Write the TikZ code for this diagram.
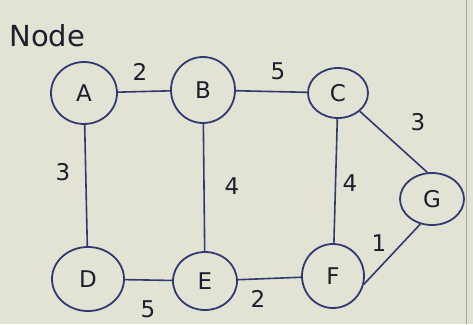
\documentclass[tikz,border=0pt]{standalone}
\usepackage{fontspec}
\setmainfont{DejaVu Sans}
\usetikzlibrary{shapes.geometric}
\definecolor{paper}{RGB}{226,227,212}
\definecolor{ink}{RGB}{48,58,112}
\definecolor{pen}{RGB}{30,30,45}
\begin{document}
\begin{tikzpicture}[x=1pt,y=-1pt,
  vertex/.style={ellipse,draw=ink,line width=1.8pt,inner sep=0pt,
    font=\fontsize{23}{23}\selectfont\color{pen}},
  link/.style={draw=ink,line width=1.6pt},
  weight/.style={font=\fontsize{23}{23}\selectfont\color{pen}}]
  % sheet of paper
  \fill[paper] (0,0) rectangle (473,324);
  \useasboundingbox (0,0) rectangle (473,324);
  \draw[gray!70,line width=1pt] (466,0) -- (466,324);
  % heading
  \node[font=\fontsize{29}{29}\selectfont\color{pen},anchor=west] (title) at (6,36) {Node};
  % vertices
  \node[vertex,minimum width=66pt,minimum height=62pt] (A) at (84,93) {A};
  \node[vertex,minimum width=64pt,minimum height=66pt] (B) at (203,90) {B};
  \node[vertex,minimum width=60pt,minimum height=50pt] (C) at (338,93) {C};
  \node[vertex,minimum width=64pt,minimum height=52pt] (G) at (432,199) {G};
  \node[vertex,minimum width=72pt,minimum height=64pt] (D) at (88,279) {D};
  \node[vertex,minimum width=64pt,minimum height=58pt] (E) at (205,281) {E};
  \node[vertex,minimum width=62pt,minimum height=64pt] (F) at (333,276) {F};
  % edges
  \draw[link] (A) -- (B);
  \draw[link] (B) -- (C);
  \draw[link] (C.-40) -- (G.100);
  \draw[link] (A) -- (D);
  \draw[link] (B) -- (E);
  \draw[link] (C) -- (F);
  \draw[link] (D) -- (E);
  \draw[link] (E) -- (F);
  \draw[link] (F.-15) -- (G.-115);
  % weights
  \node[weight] (wab) at (140,72) {2};
  \node[weight] (wbc) at (278,71) {5};
  \node[weight] (wcg) at (418,122) {3};
  \node[weight] (wad) at (63,172) {3};
  \node[weight] (wbe) at (232,186) {4};
  \node[weight] (wcf) at (350,183) {4};
  \node[weight] (wfg) at (379,243) {1};
  \node[weight] (wde) at (148,309) {5};
  \node[weight] (wef) at (258,299) {2};
\end{tikzpicture}
\end{document}
